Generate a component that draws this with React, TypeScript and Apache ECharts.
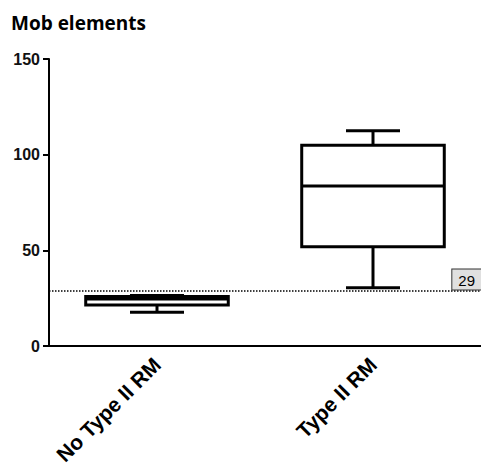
import React, { useEffect, useRef } from "react";
import * as echarts from "echarts";

const categories = ["No Type II RM", "Type II RM"];
// [min, Q1, median, Q3, max]
const boxValues = [
  [17.6, 21.4, 24.6, 25.9, 26.4],
  [30.5, 51.9, 83.6, 104.9, 112.5],
];
const yTicks = { min: 0, max: 150, interval: 50 };
const thresholdValue = 29;
const titleText = "Mob elements";

export default function App() {
  const ref = useRef<HTMLDivElement>(null);
  useEffect(() => {
    const chart = echarts.init(ref.current!, null, { renderer: "svg" });
    const stroke = { stroke: "#000", lineWidth: 3, fill: "none" };
    chart.setOption({
      animation: false,
      title: {
        text: titleText,
        left: 6,
        top: 8,
        textStyle: { fontFamily: "Open Sans", fontWeight: "bold", fontSize: 19, color: "#000" },
      },
      grid: { left: 49, right: 0, top: 59, bottom: 123 },
      xAxis: {
        type: "category",
        data: categories,
        boundaryGap: true,
        axisLine: { lineStyle: { color: "#000", width: 2 } },
        axisTick: { alignWithLabel: true, length: 5, lineStyle: { color: "#000", width: 2 } },
        axisLabel: {
          rotate: 45,
          margin: 15,
          fontFamily: "Liberation Sans",
          fontWeight: "bold",
          fontSize: 21,
          color: "#000",
        },
        splitLine: { show: false },
      },
      yAxis: {
        type: "value",
        min: yTicks.min,
        max: yTicks.max,
        interval: yTicks.interval,
        axisLine: { show: true, lineStyle: { color: "#000", width: 2 } },
        axisTick: { show: true, length: 6, lineStyle: { color: "#000", width: 2 } },
        axisLabel: {
          margin: 9,
          fontFamily: "Liberation Sans",
          fontWeight: "bold",
          fontSize: 16,
          color: "#111",
        },
        splitLine: { show: false },
      },
      series: [
        {
          type: "custom",
          data: boxValues.map((v, i) => [i, ...v]),
          encode: { x: 0, y: [1, 2, 3, 4, 5] },
          renderItem: (params: any, api: any) => {
            const i = api.value(0);
            const band = api.size([1, 0])[0];
            const bw = band * 0.66;
            const cw = band * 0.25;
            const pMin = api.coord([i, api.value(1)]);
            const pQ1 = api.coord([i, api.value(2)]);
            const pMed = api.coord([i, api.value(3)]);
            const pQ3 = api.coord([i, api.value(4)]);
            const pMax = api.coord([i, api.value(5)]);
            const cx = pMed[0];
            const line = (x1: number, y1: number, x2: number, y2: number) => ({
              type: "line",
              shape: { x1, y1, x2, y2 },
              style: stroke,
            });
            return {
              type: "group",
              children: [
                line(cx, pQ3[1], cx, pMax[1]),
                line(cx, pQ1[1], cx, pMin[1]),
                line(cx - cw / 2, pMax[1], cx + cw / 2, pMax[1]),
                line(cx - cw / 2, pMin[1], cx + cw / 2, pMin[1]),
                {
                  type: "rect",
                  shape: { x: cx - bw / 2, y: pQ3[1], width: bw, height: pQ1[1] - pQ3[1] },
                  style: { stroke: "#000", lineWidth: 3, fill: "#fff" },
                },
                line(cx - bw / 2, pMed[1], cx + bw / 2, pMed[1]),
              ],
            };
          },
          z: 3,
        },
        {
          type: "line",
          data: [],
          z: 2,
          markLine: {
            silent: true,
            symbol: "none",
            lineStyle: { color: "#000", type: "dotted", width: 1.5 },
            data: [{ yAxis: thresholdValue }],
            label: {
              show: true,
              position: "insideEndTop",
              distance: [0, 1],
              formatter: String(thresholdValue),
              fontFamily: "Liberation Sans",
              fontSize: 15,
              color: "#000",
              backgroundColor: "#e0e0e0",
              borderColor: "#333",
              borderWidth: 1,
              padding: [3, 6, 2, 6],
            },
          },
        },
      ],
    });
    return () => chart.dispose();
  }, []);
  return (
    <div
      ref={ref}
      style={{ position: "fixed", left: 0, top: 0, width: 481, height: 469, background: "#fff" }}
    />
  );
}
